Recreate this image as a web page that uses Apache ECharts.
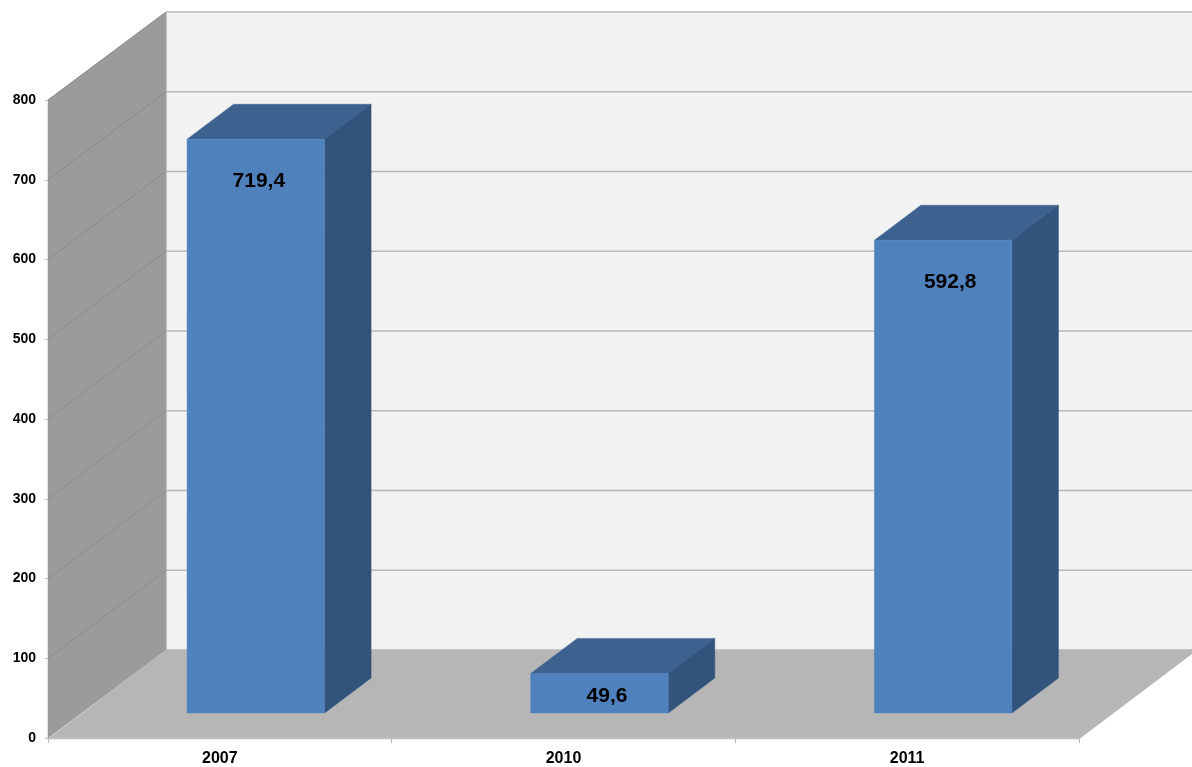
<!DOCTYPE html>
<html>
<head>
<meta charset="utf-8">
<style>
  html, body { margin: 0; padding: 0; background: #fff; }
  #chart { width: 1192px; height: 767px; }
</style>
<script src="https://cdn.jsdelivr.net/npm/echarts@6/dist/echarts.min.js"></script>
</head>
<body>
<div id="chart"></div>
<script>
  const categories = ['2007', '2010', '2011'];
  const values = [719.4, 49.6, 592.8];
  const yTicks = [0, 100, 200, 300, 400, 500, 600, 700, 800];

  // depth of the fake 3d box, in pixels
  const WALL_DX = 118;
  const WALL_DY = 88;
  const BAR_DX = 36;
  const BAR_DY = 25;
  const BAR_W = 137.5;
  const BAR_DEPTH_X = 46.5;
  const BAR_DEPTH_Y = 35;
  // the labels are not quite centred on the bars in the original
  const LABEL_SHIFT = [3, 7.5, 7];

  function poly(points, fill) {
    return {
      type: 'polygon',
      shape: { points: points },
      style: { fill: fill, stroke: fill, lineWidth: 0.5 },
    };
  }

  function renderWalls(params, api) {
    const rect = params.coordSys;
    const left = rect.x;
    const right = rect.x + rect.width;
    const bottom = rect.y + rect.height;
    const top = rect.y;

    const children = [
      // back wall
      poly([
        [left + WALL_DX, top - WALL_DY],
        [right + WALL_DX, top - WALL_DY],
        [right + WALL_DX, bottom - WALL_DY],
        [left + WALL_DX, bottom - WALL_DY],
      ], '#f2f2f2'),
      // side wall
      poly([
        [left, top],
        [left + WALL_DX, top - WALL_DY],
        [left + WALL_DX, bottom - WALL_DY],
        [left, bottom],
      ], '#9b9b9b'),
      // floor
      poly([
        [left, bottom + 1],
        [right, bottom + 1],
        [right + WALL_DX, bottom - WALL_DY],
        [left + WALL_DX, bottom - WALL_DY],
      ], '#b6b6b6'),
    ];

    yTicks.forEach(function (tick) {
      const y = api.coord([0, tick])[1];
      children.push({
        type: 'line',
        shape: { x1: left + WALL_DX, y1: y - WALL_DY, x2: right + WALL_DX, y2: y - WALL_DY },
        style: { stroke: '#b8b8b8', lineWidth: 1.5 },
      });
      if (tick > 0) {
        children.push({
          type: 'line',
          shape: { x1: left, y1: y, x2: left + WALL_DX, y2: y - WALL_DY },
          style: { stroke: '#8c8c8c', lineWidth: 1 },
        });
      }
    });

    children.push({
      type: 'line',
      shape: { x1: left + WALL_DX, y1: top - WALL_DY, x2: left + WALL_DX, y2: bottom - WALL_DY },
      style: { stroke: '#a8a8a8', lineWidth: 1 },
    });

    return { type: 'group', children: children };
  }

  function renderBar(params, api) {
    const base = api.coord([api.value(0), 0]);
    const head = api.coord([api.value(0), api.value(1)]);
    const x0 = base[0] + BAR_DX - BAR_W / 2;
    const x1 = x0 + BAR_W;
    const y0 = base[1] - BAR_DY;
    const y1 = head[1] - BAR_DY;
    const dx = BAR_DEPTH_X;
    const dy = BAR_DEPTH_Y;
    const labelDown = Math.min(42, (y0 - y1) / 2 + 2.5);

    return {
      type: 'group',
      children: [
        poly([[x0, y1], [x1, y1], [x1 + dx, y1 - dy], [x0 + dx, y1 - dy]], '#3d6290'),
        poly([[x1, y1], [x1 + dx, y1 - dy], [x1 + dx, y0 - dy], [x1, y0]], '#32537b'),
        poly([[x0, y1], [x1, y1], [x1, y0], [x0, y0]], '#4f81bd'),
        {
          type: 'text',
          style: {
            text: String(api.value(1)).replace('.', ','),
            x: (x0 + x1) / 2 + LABEL_SHIFT[params.dataIndex],
            y: y1 + labelDown,
            align: 'center',
            verticalAlign: 'middle',
            fill: '#000',
            font: 'bold 21px "Liberation Sans", Arial, sans-serif',
          },
        },
      ],
    };
  }

  const chart = echarts.init(document.getElementById('chart'), null, { renderer: 'canvas' });
  chart.setOption({
    animation: false,
    backgroundColor: '#fff',
    grid: { left: 48, top: 100, width: 1031, height: 638 },
    xAxis: {
      type: 'category',
      data: categories,
      boundaryGap: true,
      axisLine: { show: true, lineStyle: { color: '#bcbcbc', width: 2 } },
      axisTick: { show: true, length: 5, lineStyle: { color: '#b8b8b8', width: 1 } },
      axisLabel: {
        color: '#000',
        fontFamily: 'Liberation Sans',
        fontWeight: 'bold',
        fontSize: 16,
        margin: 13,
      },
      z: 5,
    },
    yAxis: {
      type: 'value',
      min: 0,
      max: 800,
      interval: 100,
      splitLine: { show: false },
      axisLine: { show: false },
      axisTick: { show: true, length: 3, lineStyle: { color: '#b8b8b8', width: 1 } },
      axisLabel: {
        color: '#000',
        fontFamily: 'Liberation Sans',
        fontWeight: 'bold',
        fontSize: 14,
        margin: 12,
        padding: [2, 0, 0, 0],
      },
      z: 5,
    },
    series: [
      {
        type: 'custom',
        clip: false,
        silent: true,
        z: 1,
        renderItem: renderWalls,
        data: [[0, 0]],
      },
      {
        type: 'custom',
        clip: false,
        z: 2,
        renderItem: renderBar,
        encode: { x: 0, y: 1 },
        data: values.map(function (v, i) { return [i, v]; }),
      },
    ],
  });
</script>
</body>
</html>
